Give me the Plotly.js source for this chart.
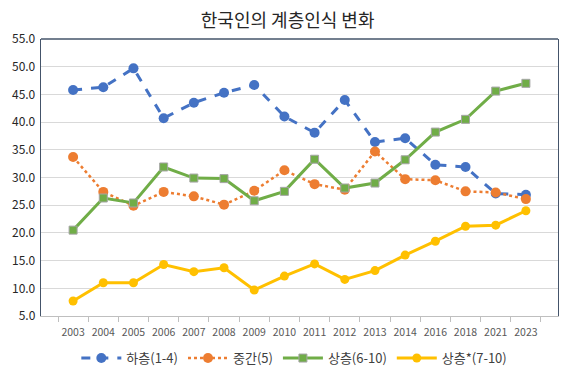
<!DOCTYPE html>
<html><head><meta charset="utf-8">
<script src="https://cdn.plot.ly/plotly-3.0.1.min.js"></script>
<style>html,body{margin:0;padding:0;background:#fff;}#chart{width:564px;height:370px;}</style>
</head><body><div id="chart"></div>
<script>
const years = ["2003","2004","2005","2006","2007","2008","2009","2010","2011","2012","2013","2014","2016","2018","2021","2023"];
const lower = [45.8,46.3,49.7,40.7,43.5,45.3,46.7,41.0,38.1,44.0,36.4,37.1,32.3,31.9,27.1,26.9];
const middle = [33.7,27.4,24.9,27.4,26.6,25.1,27.6,31.3,28.8,27.8,34.7,29.7,29.5,27.5,27.3,26.1];
const upper610 = [20.5,26.3,25.4,31.9,29.9,29.8,25.8,27.5,33.3,28.1,29.0,33.2,38.2,40.5,45.6,47.0];
const upper710 = [7.7,11.0,11.0,14.3,13.0,13.7,9.7,12.2,14.4,11.6,13.2,16.0,18.5,21.2,21.4,24.0];
const names = ["하층(1-4)","중간(5)","상층(6-10)","상층*(7-10)"];

const font = "'Noto Sans CJK KR', 'Noto Sans', sans-serif";
const traces = [
  {x: years, y: lower, name: names[0], mode: "lines+markers",
   line: {color: "#4472C4", width: 3, dash: "dash"},
   marker: {color: "#4472C4", size: 10, symbol: "circle"}},
  {x: years, y: middle, name: names[1], mode: "lines+markers",
   line: {color: "#ED7D31", width: 2.5, dash: "dot"},
   marker: {color: "#ED7D31", size: 10, symbol: "circle"}},
  {x: years, y: upper610, name: names[2], mode: "lines+markers",
   line: {color: "#70AD47", width: 3},
   marker: {color: "#70AD47", size: 8, symbol: "square", line: {color: "#A5A5A5", width: 1}}},
  {x: years, y: upper710, name: names[3], mode: "lines+markers",
   line: {color: "#FFC000", width: 3},
   marker: {color: "#FFC000", size: 9, symbol: "circle"}}
];
const layout = {
  width: 564, height: 370,
  margin: {l: 41, r: 6, t: 39, b: 54, autoexpand: false},
  paper_bgcolor: "#fff", plot_bgcolor: "#fff",
  font: {family: font, color: "#595959"},
  title: {text: "한국인의 계층인식 변화", font: {family: font, size: 18, color: "#262626"},
          x: 0.51, xanchor: "center", y: 0.945, yanchor: "middle"},
  xaxis: {type: "category", showgrid: false, showline: true, linecolor: "#BFBFBF", linewidth: 1,
          ticks: "outside", tickson: "boundaries", ticklen: 5, tickcolor: "#BFBFBF", tickangle: 0,
          ticklabelstandoff: 6, automargin: false,
          tickfont: {family: font, size: 10.5, color: "#595959"}, fixedrange: true, zeroline: false},
  yaxis: {range: [5, 55], dtick: 5, tickformat: ".1f", showgrid: true, gridcolor: "#D9D9D9", gridwidth: 1,
          showline: true, linecolor: "#44546A", linewidth: 1.3, mirror: true, ticks: "", automargin: false,
          tickfont: {family: font, size: 12, color: "#262626"}, zeroline: false, ticklabelstandoff: 2},
  shapes: [{type: "line", xref: "paper", yref: "paper", x0: 0, x1: 1, y0: 1, y1: 1,
            line: {color: "#44546A", width: 1.3}}],
  legend: {orientation: "h", x: 0.49, xanchor: "center", y: -0.152, yanchor: "middle",
           font: {family: font, size: 13, color: "#404040"}, itemwidth: 40, tracegroupgap: 0},
  showlegend: true
};
Plotly.newPlot("chart", traces, layout, {displayModeBar: false, staticPlot: true});
</script></body></html>
